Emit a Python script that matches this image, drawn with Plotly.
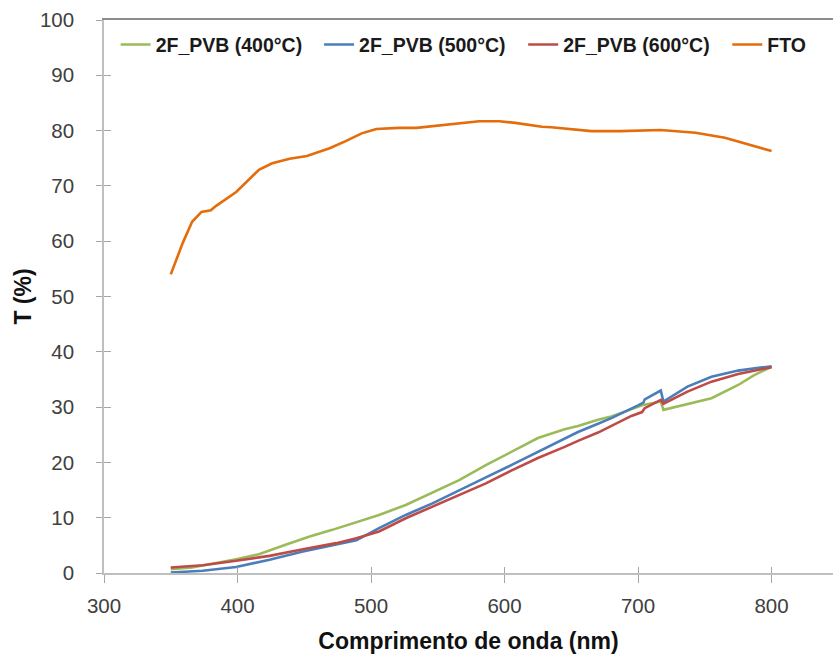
import plotly.graph_objects as go

# Transmittance spectra (wavelength in nm, T in %)
wl_fto = [350, 359, 366, 373, 380, 384, 399, 416, 426, 439, 452, 469, 481, 493, 504,
          521, 534, 546, 563, 581, 596, 608, 628, 635, 665, 687, 717, 743, 765, 784, 800]
t_fto = [54.0, 59.7, 63.5, 65.3, 65.6, 66.4, 68.9, 72.9, 74.1, 74.9, 75.4, 76.8, 78.1,
         79.5, 80.3, 80.5, 80.5, 80.8, 81.3, 81.7, 81.7, 81.4, 80.7, 80.6, 79.9, 79.9,
         80.1, 79.6, 78.7, 77.4, 76.3]

wl_400 = [350, 366, 399, 416, 436, 454, 471, 491, 506, 526, 546, 566, 586, 605, 625,
          645, 655, 670, 680, 704, 717, 719, 730, 755, 775, 787, 800]
t_400 = [0.7, 1.0, 2.5, 3.4, 5.1, 6.6, 7.8, 9.3, 10.5, 12.3, 14.5, 16.8, 19.5, 21.9,
         24.4, 26.0, 26.6, 27.7, 28.3, 30.4, 31.0, 29.5, 30.1, 31.6, 34.0, 35.8, 37.3]

wl_500 = [350, 374, 399, 424, 449, 474, 489, 506, 526, 546, 566, 586, 605, 625, 645,
          655, 670, 680, 700, 704, 705, 717, 719, 737, 755, 775, 800]
t_500 = [0.1, 0.4, 1.1, 2.4, 3.9, 5.1, 5.9, 8.1, 10.5, 12.6, 15.0, 17.3, 19.5, 21.9,
         24.4, 25.5, 27.0, 28.0, 30.3, 30.8, 31.4, 33.0, 31.0, 33.7, 35.5, 36.6, 37.4]

wl_600 = [350, 374, 399, 424, 449, 474, 489, 506, 526, 546, 566, 586, 605, 625, 645,
          655, 670, 680, 695, 703, 705, 717, 719, 737, 755, 775, 800]
t_600 = [1.0, 1.4, 2.2, 3.1, 4.3, 5.4, 6.3, 7.5, 9.9, 12.0, 14.1, 16.2, 18.5, 20.8,
         22.8, 23.9, 25.4, 26.6, 28.4, 29.1, 29.8, 31.3, 30.6, 32.8, 34.6, 36.0, 37.2]

series_names = ["2F_PVB (400°C)", "2F_PVB (500°C)", "2F_PVB (600°C)", "FTO"]
series_colors = ["#9BBB59", "#4A7EBB", "#BE4B48", "#E46C0A"]

x_ticks = [300, 400, 500, 600, 700, 800]
y_ticks = [0, 10, 20, 30, 40, 50, 60, 70, 80, 90, 100]
x_range = [300, 846]
y_range = [0, 100]

FONT = "Liberation Sans, Arial, sans-serif"
AXIS_GRAY = "#BFBFBF"
TICK_GRAY = "#A6A6A6"
LABEL_GRAY = "#404040"

# one legend box per series so the entries sit in a single evenly spaced row
legend_ids = ["legend", "legend2", "legend3", "legend4"]
legend_x = [0.016, 0.295, 0.575, 0.855]

fig = go.Figure()
for wl, t, name, color, lg in zip([wl_400, wl_500, wl_600, wl_fto],
                                  [t_400, t_500, t_600, t_fto],
                                  series_names, series_colors, legend_ids):
    fig.add_trace(go.Scatter(x=wl, y=t, mode="lines", name=name, legend=lg,
                             line=dict(color=color, width=2.6)))

# helper traces so the overlay axes (top frame line, inner tick halves) get drawn
fig.add_trace(go.Scatter(x=[], y=[], xaxis="x2", yaxis="y", showlegend=False, hoverinfo="skip"))
fig.add_trace(go.Scatter(x=[], y=[], xaxis="x3", yaxis="y2", showlegend=False, hoverinfo="skip"))

legend_style = dict(orientation="h", y=0.955, xanchor="left", yanchor="middle",
                    font=dict(family=FONT, size=19.5, color="#1a1a1a", weight="bold"),
                    itemwidth=30, bgcolor="rgba(0,0,0,0)")

fig.update_layout(
    width=833, height=664,
    margin=dict(l=104, r=0, t=20, b=91),
    paper_bgcolor="white", plot_bgcolor="white",
    font=dict(family=FONT, color=LABEL_GRAY),
    showlegend=True,
    **{lg: dict(x=lx, **legend_style) for lg, lx in zip(legend_ids, legend_x)},
    xaxis=dict(range=x_range, tickvals=x_ticks, ticks="outside", ticklen=8,
               tickcolor=TICK_GRAY, tickwidth=1.3, showline=True, linecolor=AXIS_GRAY,
               linewidth=1.5, showgrid=False, zeroline=False,
               tickfont=dict(family=FONT, size=20.5, color=LABEL_GRAY),
               ticklabelstandoff=6,
               title=dict(text="Comprimento de onda (nm)", standoff=17,
                          font=dict(family=FONT, size=23, color="#111111", weight="bold"))),
    yaxis=dict(range=y_range, tickvals=y_ticks, ticks="outside", ticklen=6,
               tickcolor=TICK_GRAY, tickwidth=1.3, showline=True, linecolor=AXIS_GRAY,
               linewidth=1.5, showgrid=False, zeroline=False,
               tickfont=dict(family=FONT, size=20.5, color=LABEL_GRAY),
               ticklabelstandoff=18,
               title=dict(text="T (%)", standoff=2,
                          font=dict(family=FONT, size=23, color="#111111", weight="bold"))),
    xaxis2=dict(range=x_range, overlaying="x", side="top", anchor="y", showline=True,
                linecolor="#8C8C8C", linewidth=2, showticklabels=False, ticks="",
                showgrid=False, zeroline=False),
    xaxis3=dict(range=x_range, overlaying="x", side="bottom", anchor="y2", tickvals=x_ticks,
                ticks="inside", ticklen=6, tickcolor=TICK_GRAY, tickwidth=1.3,
                showticklabels=False, showline=False, showgrid=False, zeroline=False),
    yaxis2=dict(range=y_range, overlaying="y", side="left", anchor="x3", tickvals=y_ticks,
                ticks="inside", ticklen=7, tickcolor=TICK_GRAY, tickwidth=1.3,
                showticklabels=False, showline=False, showgrid=False, zeroline=False),
)

fig.write_html("out.html")
